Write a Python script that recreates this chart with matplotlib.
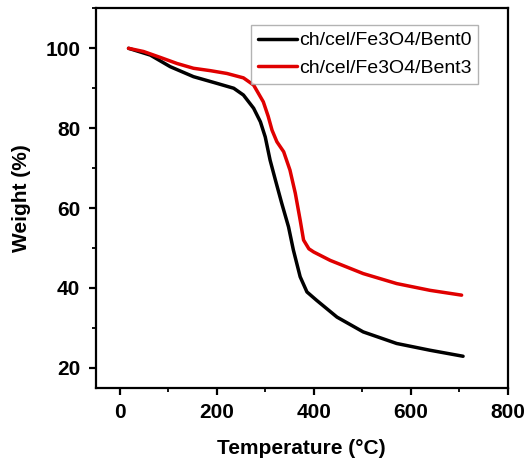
import matplotlib
matplotlib.use("Agg")
import matplotlib.pyplot as plt
from matplotlib.ticker import MultipleLocator

plt.rcParams["font.family"] = ["Liberation Sans", "DejaVu Sans"]

# TGA curves: temperature (°C) vs remaining weight (%)
temp_bent0 = [18, 63, 104, 152, 201, 235, 255, 276, 290, 300, 310, 321, 334,
              348, 358, 372, 386, 406, 448, 502, 571, 640, 708]
weight_bent0 = [100, 98.3, 95.4, 92.9, 91.2, 90.0, 88.3, 85.0, 81.6, 77.8, 72.0,
                67.0, 61.2, 55.3, 49.5, 42.8, 39.0, 36.9, 32.7, 29.0, 26.1, 24.4, 22.9]

temp_bent3 = [18, 49, 84, 118, 152, 187, 221, 255, 276, 296, 306, 314, 324,
              338, 351, 362, 372, 379, 390, 400, 434, 502, 571, 640, 705]
weight_bent3 = [100, 99.2, 97.7, 96.2, 95.0, 94.4, 93.7, 92.6, 90.8, 86.6, 83.0,
                79.5, 76.6, 74.1, 69.5, 63.7, 57.0, 52.0, 49.8, 49.0, 46.9, 43.6,
                41.1, 39.4, 38.2]

labels = ["ch/cel/Fe3O4/Bent0", "ch/cel/Fe3O4/Bent3"]

fig = plt.figure(figsize=(5.25, 4.65), dpi=100)
ax = fig.add_axes([0.182, 0.166, 0.785, 0.816])

ax.plot(temp_bent0, weight_bent0, color="black", lw=2.5, label=labels[0],
        solid_joinstyle="round", solid_capstyle="round")
ax.plot(temp_bent3, weight_bent3, color="#e00000", lw=2.5, label=labels[1],
        solid_joinstyle="round", solid_capstyle="round")

ax.set_xlim(-50, 800)
ax.set_ylim(15, 110)
ax.xaxis.set_major_locator(MultipleLocator(200))
ax.xaxis.set_minor_locator(MultipleLocator(100))
ax.yaxis.set_major_locator(MultipleLocator(20))
ax.yaxis.set_minor_locator(MultipleLocator(10))

for s in ax.spines.values():
    s.set_linewidth(1.6)
ax.tick_params(which="major", direction="out", length=5, width=1.6,
               labelsize=15, pad=6)
ax.tick_params(which="minor", direction="out", length=3, width=1.3)
for lab in ax.get_xticklabels() + ax.get_yticklabels():
    lab.set_fontweight("bold")

ax.set_xlabel("Temperature (°C)", fontsize=15, fontweight="bold", labelpad=12)
ax.set_ylabel("Weight (%)", fontsize=15, fontweight="bold", labelpad=10)

leg = ax.legend(loc="upper right", bbox_to_anchor=(0.928, 0.956), fontsize=14,
                frameon=True, fancybox=False, handlelength=2.0,
                handletextpad=0.1, borderpad=0.35, labelspacing=0.5,
                borderaxespad=0)
leg.get_frame().set_edgecolor("#a0a0a0")
leg.get_frame().set_linewidth(1.0)

fig.savefig("out.png", dpi=100)
